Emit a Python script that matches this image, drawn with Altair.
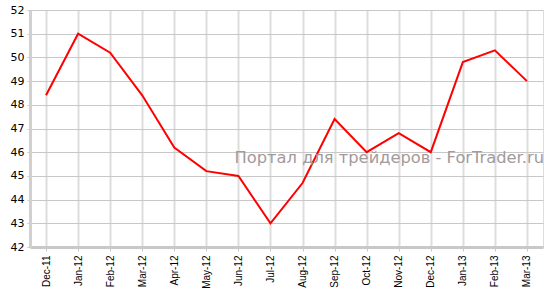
import altair as alt
import pandas as pd

months = ["Dec-11", "Jan-12", "Feb-12", "Mar-12", "Apr-12", "May-12", "Jun-12", "Jul-12",
          "Aug-12", "Sep-12", "Oct-12", "Nov-12", "Dec-12", "Jan-13", "Feb-13", "Mar-13"]
values = [48.4, 51.0, 50.2, 48.4, 46.2, 45.2, 45.0, 43.0,
          44.7, 47.4, 46.0, 46.8, 46.0, 49.8, 50.3, 49.0]
watermark = ["Портал для трейдеров - ForTrader.ru"]

df = pd.DataFrame({"month": months, "value": values})

x = alt.X("month:O", sort=months, title=None,
          scale=alt.Scale(type="point", padding=0.5),
          axis=alt.Axis(labelAngle=-90, labelFont="Liberation Sans", labelFontSize=10,
                        labelColor="#000", labelPadding=4,
                        domainColor="#c8c8c8", domainWidth=3,
                        tickColor="#c8c8c8", tickSize=4,
                        grid=True, gridColor="#dddddd", gridWidth=2))
y = alt.Y("value:Q", title=None,
          scale=alt.Scale(domain=[42, 52], nice=False, zero=False),
          axis=alt.Axis(values=list(range(42, 53)), labelFont="DejaVu Sans", labelFontSize=11,
                        labelColor="#000", labelPadding=3,
                        domainColor="#d0d0d0", domainWidth=3,
                        tickColor="#c8c8c8", tickSize=3,
                        grid=True, gridColor="#c8c8c8", gridWidth=1))

line = alt.Chart(df).mark_line(color="#ff0000", strokeWidth=2).encode(x=x, y=y)

wm = alt.Chart(pd.DataFrame({"t": watermark})).mark_text(
    align="right", baseline="middle", font="DejaVu Sans", fontSize=16.3, color="#a39a9a"
).encode(text="t:N", x=alt.value(514), y=alt.value(148))

chart = alt.layer(line, wm).properties(
    width=513, height=237,
    autosize=alt.AutoSizeParams(type="none"),
    padding={"left": 30, "top": 10, "right": 9, "bottom": 48},
).configure_view(stroke=None).configure(background="#ffffff")

chart.save("out.html", embed_options={"renderer": "svg", "actions": False})
